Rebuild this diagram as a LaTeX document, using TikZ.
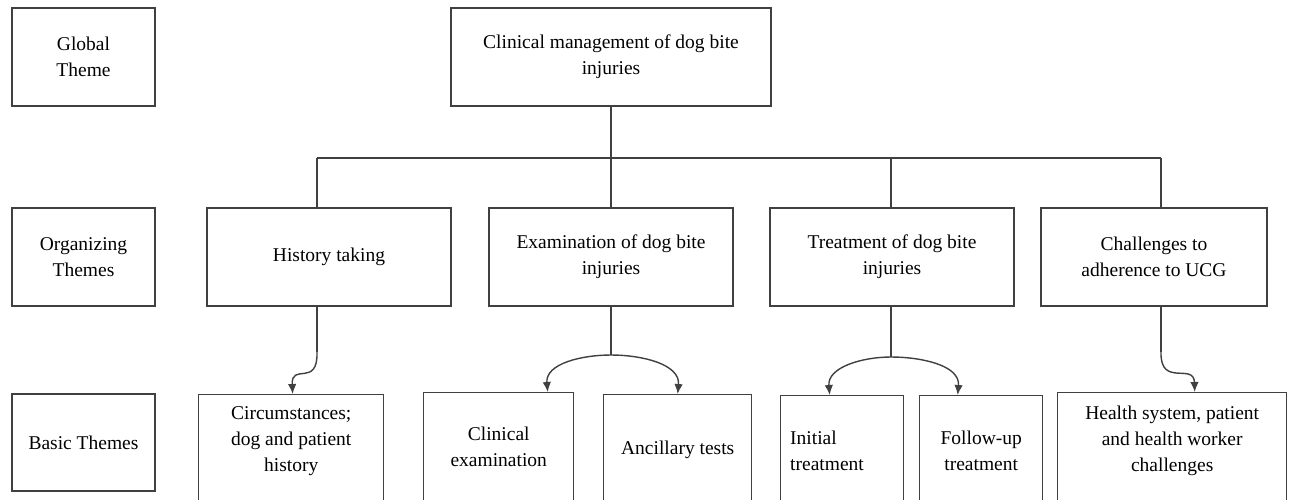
\documentclass[tikz,border=0pt]{standalone}
\usepackage{fontspec}
\setmainfont{Liberation Serif}
\newfontfamily\themefont{Liberation Serif}
\usetikzlibrary{positioning,arrows.meta}

\tikzset{
  theme/.style={draw=black!75, line width=1.4pt, rectangle, minimum height=98pt,
    align=center, inner sep=0pt, font=\themefont\fontsize{19.5}{26}\selectfont},
  frame/.style={draw=black!75, line width=1.4pt, rectangle, inner sep=0pt,
    minimum height=130pt, anchor=north west},
  words/.style={align=center, inner sep=0pt, font=\themefont\fontsize{19.5}{26}\selectfont},
  link/.style={black!75, line width=1.4pt},
  pointer/.style={link, -{Latex[length=10pt,width=8.5pt]}},
}

\begin{document}
\begin{tikzpicture}[x=1pt,y=-1pt]
  \useasboundingbox (0,0) rectangle (1289,499);
  \clip (0,0) rectangle (1289,499);

  % Left column
  \node[theme, minimum width=143pt] (global) at (83.5,57) {Global\\Theme};
  \node[theme, minimum width=143pt] (organizing) at (83.5,257) {Organizing\\Themes};
  \node[theme, minimum width=143pt, minimum height=97pt] (basic) at (83.5,442.5) {Basic Themes};

  % Global theme
  \node[theme, minimum width=320pt] (gm) at (611,57) {Clinical management of dog bite\\injuries};

  % Organizing themes
  \node[theme, minimum width=244pt] (hist) at (329,257) {History taking};
  \node[theme, minimum width=244pt] (exam) at (611,257) {Examination of dog bite\\injuries};
  \node[theme, minimum width=244pt] (treat) at (892,257) {Treatment of dog bite\\injuries};
  \node[theme, minimum width=226pt] (chall) at (1154,257) {Challenges to\\adherence to UCG};

  % Basic themes (boxes run past the bottom edge)
  \node[frame, minimum width=185pt] (circ) at (198,394) {};
  \node[frame, minimum width=150pt] (clin) at (423,392) {};
  \node[frame, minimum width=148pt] (anc) at (603,394) {};
  \node[frame, minimum width=123pt] (init) at (780,395) {};
  \node[frame, minimum width=123pt] (follow) at (919,395) {};
  \node[frame, minimum width=229pt] (health) at (1057,392) {};

  \node[words, below=12pt of circ.north] (circtext) {Circumstances;\\dog and patient\\history};
  \node[words, below=35pt of clin.north] (clintext) {Clinical\\examination};
  \node[words, below=47pt of anc.north] (anctext) {Ancillary tests};
  \node[words, align=left, anchor=north west] (inittext) at ([xshift=10pt,yshift=-36pt]init.north west) {Initial\\treatment};
  \node[words, below=36pt of follow.north] (followtext) {Follow-up\\treatment};
  \node[words, below=14pt of health.north] (healthtext) {Health system, patient\\and health worker\\challenges};

  % Tree from global to organizing themes
  \coordinate (d1) at (317,158);
  \coordinate (d3) at (891,158);
  \coordinate (d4) at (1161,158);
  \draw[link] (d1) -- (d4);
  \draw[link] (gm.south) -- (gm.south |- exam.north);
  \draw[link] (d1) -- (d1 |- hist.north);
  \draw[link] (d3) -- (d3 |- treat.north);
  \draw[link] (d4) -- (d4 |- chall.north);

  % Organizing to basic themes
  \coordinate (hj) at (317,352);
  \coordinate (ej) at (611,355);
  \coordinate (tj) at (891,357);
  \coordinate (cj) at (1161,352);
  \draw[link] (d1 |- hist.south) -- (hj);
  \draw[pointer] (hj) .. controls (318,388) and (291,362) .. ([xshift=1.5pt]circ.north);
  \draw[link] (exam.south) -- (ej);
  \draw[pointer] (ej) to[out=180,in=95] ([xshift=49pt]clin.north);
  \draw[pointer] (ej) to[out=0,in=85] (anc.north);
  \draw[link] (d3 |- treat.south) -- (tj);
  \draw[pointer] (tj) to[out=180,in=95] ([xshift=-12.5pt]init.north);
  \draw[pointer] (tj) to[out=0,in=85] ([xshift=-23.5pt]follow.north);
  \draw[link] (d4 |- chall.south) -- (cj);
  \draw[pointer] (cj) .. controls (1160,388) and (1194,362) .. ([xshift=22.5pt]health.north);
\end{tikzpicture}
\end{document}
